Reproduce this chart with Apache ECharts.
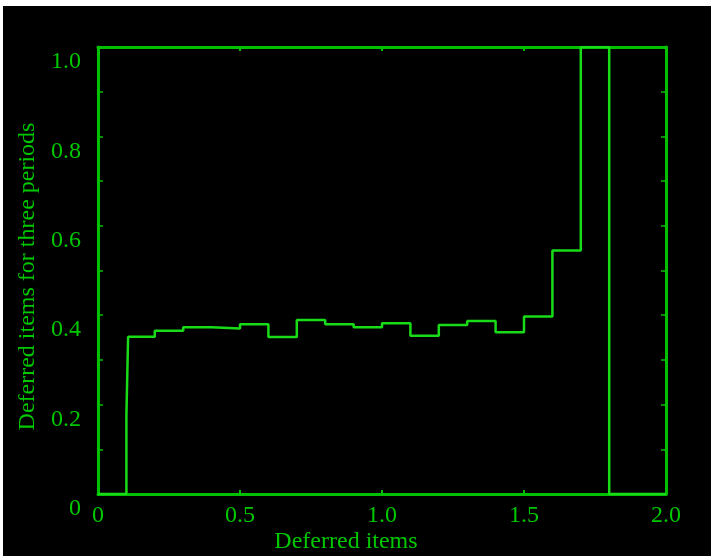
<!DOCTYPE html>
<html>
<head>
<meta charset="utf-8">
<script src="https://cdn.jsdelivr.net/npm/echarts@6/dist/echarts.min.js"></script>
<style>
html,body{margin:0;padding:0;background:#fff;width:711px;height:556px;overflow:hidden;}
#c{position:absolute;left:3px;top:6px;width:708px;height:550px;}
</style>
</head>
<body>
<div id="c"></div>
<script>
// Bin edges (x) and step values (y)
var binEdges = [0, 0.1, 0.106, 0.2, 0.3, 0.4, 0.5, 0.6, 0.7, 0.8, 0.9, 1.0, 1.1, 1.2, 1.3, 1.4, 1.5, 1.6, 1.7, 1.8, 2.0];
var binValues = [0, 0.175, 0.352, 0.365, 0.373, 0.370, 0.380, 0.351, 0.389, 0.380, 0.373, 0.382, 0.354, 0.378, 0.387, 0.362, 0.397, 0.545, 1.0, 0];
var xTickLabels = ['0', '0.5', '1.0', '1.5', '2.0'];
var yTickLabels = ['0', '0.2', '0.4', '0.6', '0.8', '1.0'];
var xTitle = 'Deferred items';
var yTitle = 'Deferred items for three periods';

var AXIS = '#00c000';
var LINE = '#18dc18';
var TEXT = '#00c800';
var FONT = '"Liberation Serif", "DejaVu Serif", serif';

var pts = [];
for (var i = 0; i < binValues.length; i++) pts.push([binEdges[i], binValues[i]]);
pts.push([binEdges[binEdges.length - 1], binValues[binValues.length - 1]]);

function fmt(list, step) {
  return function (v) {
    var idx = Math.round(v / step);
    return list[idx] !== undefined ? list[idx] : '';
  };
}

var chart = echarts.init(document.getElementById('c'), null, {renderer: 'canvas'});
var axLine = {show: true, onZero: false, lineStyle: {color: AXIS, width: 3}};
chart.setOption({
  backgroundColor: '#000',
  animation: false,
  grid: {left: 95, right: 45, top: 41, bottom: 62, containLabel: false},
  xAxis: [{
    type: 'value', min: 0, max: 2, interval: 0.5, position: 'bottom',
    axisLine: axLine,
    axisTick: {show: true, inside: true, length: 4, lineStyle: {color: AXIS, width: 2}},
    axisLabel: {color: TEXT, fontFamily: FONT, fontSize: 24, margin: 10, formatter: fmt(xTickLabels, 0.5)},
    splitLine: {show: false}
  }, {
    type: 'value', min: 0, max: 2, interval: 0.5, position: 'top',
    axisLine: axLine,
    axisTick: {show: true, inside: true, length: 4, lineStyle: {color: AXIS, width: 2}},
    axisLabel: {show: false},
    splitLine: {show: false}
  }],
  yAxis: [{
    type: 'value', min: 0, max: 1, interval: 0.2, position: 'left',
    axisLine: axLine,
    axisTick: {show: true, inside: true, length: 5, lineStyle: {color: AXIS, width: 1.5}},
    minorTick: {show: true, splitNumber: 2, length: 5, lineStyle: {color: AXIS, width: 1.5}},
    axisLabel: {color: TEXT, fontFamily: FONT, fontSize: 24, margin: 17, verticalAlign: 'top', padding: [3, 0, 0, 0], formatter: fmt(yTickLabels, 0.2)},
    splitLine: {show: false}
  }, {
    type: 'value', min: 0, max: 1, interval: 0.2, position: 'right',
    axisLine: axLine,
    axisTick: {show: true, inside: true, length: 5, lineStyle: {color: AXIS, width: 1.5}},
    minorTick: {show: true, splitNumber: 2, length: 5, lineStyle: {color: AXIS, width: 1.5}},
    axisLabel: {show: false},
    splitLine: {show: false}
  }],
  graphic: [{
    type: 'text', x: 343, y: 536,
    style: {text: xTitle, fill: TEXT, font: '24px ' + FONT, textAlign: 'center', textVerticalAlign: 'middle'}
  }, {
    type: 'text', x: 24.5, y: 270.5, rotation: Math.PI / 2,
    style: {text: yTitle, fill: TEXT, font: '24px ' + FONT, textAlign: 'center', textVerticalAlign: 'middle'}
  }],
  series: [{
    type: 'line', xAxisIndex: 0, yAxisIndex: 0,
    data: pts, step: 'end', showSymbol: false, symbol: 'none',
    lineStyle: {color: LINE, width: 2.5},
    clip: true
  }]
});
</script>
</body>
</html>
